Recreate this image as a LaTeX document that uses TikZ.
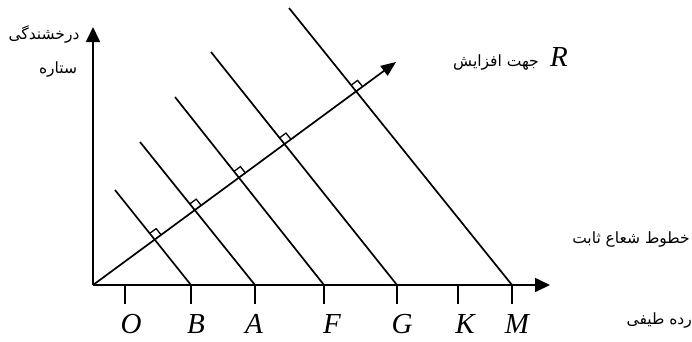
\documentclass[tikz,border=0pt]{standalone}
\usepackage{fontspec}
\setmainfont{Liberation Serif}
\newfontfamily\fa[Script=Arabic]{DejaVu Sans}
\TeXXeTstate=1
\usetikzlibrary{arrows.meta,calc}
\begin{document}
\begin{tikzpicture}[x=1pt,y=-1pt,
  ln/.style={line width=1.7pt},
  axarrow/.style={ln,-{Triangle[length=15pt,width=14pt]}},
  lettr/.style={font=\fontsize{29}{30}\selectfont\itshape, inner sep=0pt},
  fatext/.style={font=\fontsize{15.5}{18}\fa, inner sep=0pt},
  tick/.style={ln},
  rmark/.style={line width=1.3pt}]
\useasboundingbox (0,0) rectangle (692,341);
% axes
\coordinate (o) at (93,285);
\coordinate (ytip) at (93,27);
\coordinate (xtip) at (550,285);
\coordinate (rtip) at (396,62);
\draw[axarrow] (o) -- (ytip);
\draw[axarrow] (o) -- (xtip);
\draw[axarrow,-{Triangle[length=15pt,width=12pt]}] (o) -- (rtip);
% ticks and labels
\foreach \nm/\x/\lx in {O/125/131,B/191/196,A/255/254,F/324/332,G/397/402,K/458/465,M/512/517}{
  \coordinate (t\nm) at (\x,285);
  \coordinate (tb\nm) at (\x,304);
  \draw[tick] (t\nm) -- (tb\nm);
  \node[lettr] (l\nm) at (\lx,324) {\nm};
}
% constant radius lines
\coordinate (c1) at (115,190);
\coordinate (c2) at (140,142);
\coordinate (c3) at (175,97);
\coordinate (c4) at (211,52);
\coordinate (c5) at (289,8);
\foreach \i/\b in {1/B,2/A,3/F,4/G,5/M}{
  \draw[ln] (c\i) -- (t\b);
  \coordinate (p\i) at (intersection of o--rtip and c\i--t\b);
  \coordinate (qa\i) at ($(p\i)!8pt!(c\i)$);
  \coordinate (qb\i) at ($(p\i)!8pt!(rtip)$);
  \draw[rmark] (qa\i) -- ($(qa\i)+(qb\i)-(p\i)$) -- (qb\i);
}
% texts
\node[fatext] (brt) at (44,34) {\beginR درخشندگی\endR};
\node[fatext] (star) at (58,69) {\beginR ستاره\endR};
\node[fatext] (dir) at (496,62) {\beginR جهت افزایش\endR};
\node[lettr] (R) at (559,57) {R};
\node[fatext] (crl) at (631,239) {\beginR خطوط شعاع ثابت\endR};
\node[fatext,anchor=east] (spc) at (692,320) {\beginR رده طیفی\endR};
\end{tikzpicture}
\end{document}
